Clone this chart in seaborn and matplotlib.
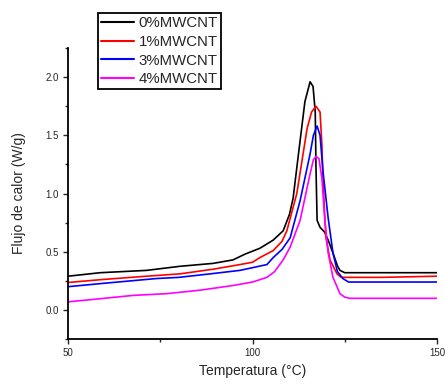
import numpy as np
import pandas as pd
import matplotlib
matplotlib.use("Agg")
import matplotlib.pyplot as plt
import seaborn as sns

# DSC curves
labels = ['0%MWCNT', '1%MWCNT', '3%MWCNT', '4%MWCNT']
colors = ['black', 'red', 'blue', 'magenta']

x_0 = [50, 58.7, 71.3, 80.3, 89.3, 94.7, 98, 102, 105.6, 108.3, 110, 111, 112.3, 114.2,
       115.6, 116.4, 117, 117.2, 117.5, 118.3, 119.5, 120.5, 121.8, 123, 123.7, 125, 150]
y_0 = [0.29, 0.32, 0.34, 0.375, 0.40, 0.43, 0.48, 0.53, 0.60, 0.68, 0.82, 0.96, 1.30, 1.79,
       1.96, 1.92, 1.70, 1.22, 0.77, 0.71, 0.67, 0.60, 0.49, 0.38, 0.34, 0.32, 0.32]

x_1 = [50, 58.7, 71.3, 80.3, 89.3, 96.6, 100, 102, 105.6, 108, 109.3, 112, 113.5, 114.8,
       116, 117.2, 118.3, 118.8, 119.1, 119.5, 119.9, 121, 122.9, 124, 135, 150]
y_1 = [0.236, 0.26, 0.29, 0.31, 0.35, 0.39, 0.41, 0.45, 0.51, 0.59, 0.68, 1.0, 1.30, 1.56,
       1.70, 1.75, 1.70, 1.42, 1.13, 0.85, 0.62, 0.43, 0.31, 0.28, 0.28, 0.29]

x_3 = [50, 60, 74, 80, 88.5, 96.6, 103.9, 105.6, 108, 110.2, 112.9, 115.6, 116.5, 117.5,
       118.3, 119.1, 120.5, 121.8, 123, 124.5, 126, 150]
y_3 = [0.20, 0.23, 0.27, 0.28, 0.31, 0.34, 0.39, 0.45, 0.52, 0.62, 0.94, 1.34, 1.50, 1.58,
       1.50, 1.19, 0.79, 0.49, 0.33, 0.27, 0.24, 0.24]

x_4 = [50, 55, 67.6, 76.8, 85.8, 94.7, 100, 103.9, 106, 108.3, 110.2, 112.9, 115.6, 116.5,
       117.2, 118, 118.8, 119.6, 120.5, 121.8, 123.7, 125, 126.4, 150]
y_4 = [0.07, 0.085, 0.125, 0.14, 0.17, 0.21, 0.24, 0.28, 0.33, 0.43, 0.54, 0.77, 1.17, 1.29,
       1.32, 1.30, 1.13, 0.77, 0.49, 0.28, 0.14, 0.11, 0.10, 0.10]

xs = [x_0, x_1, x_3, x_4]
ys = [y_0, y_1, y_3, y_4]

df = pd.concat([pd.DataFrame({'T': x, 'Q': y, 'muestra': lab}) for x, y, lab in zip(xs, ys, labels)],
               ignore_index=True)

sns.set_style('ticks')
plt.rcParams['font.family'] = ['Liberation Sans', 'DejaVu Sans']

fig = plt.figure(figsize=(4.45, 3.84), dpi=100)
ax = fig.add_axes([0.153, 0.117, 0.829, 0.758])

sns.lineplot(data=df, x='T', y='Q', hue='muestra', palette=colors, sort=False,
             estimator=None, linewidth=1.2, ax=ax)

ax.set_xlim(50, 150)
ax.set_ylim(-0.25, 2.25)
ax.set_xticks([50, 100, 150])
ax.set_xticks([75, 125], minor=True)
ax.set_yticks([0.0, 0.5, 1.0, 1.5, 2.0])
ax.set_yticks([-0.25, 0.25, 0.75, 1.25, 1.75, 2.25], minor=True)
ax.tick_params(which='major', direction='out', length=3.5, width=1, labelsize=7, pad=3)
ax.tick_params(which='minor', direction='out', length=2, width=1)
for s in ['left', 'bottom']:
    ax.spines[s].set_linewidth(1.3)
    ax.spines[s].set_color('black')
sns.despine(ax=ax)

ax.set_xlabel('Temperatura (°C)', fontsize=10, labelpad=4)
ax.set_ylabel('Flujo de calor (W/g)', fontsize=10, labelpad=14)

ax.legend(loc='upper left', bbox_to_anchor=(0.22, 0.966), bbox_transform=fig.transFigure,
          borderaxespad=0, frameon=True, fancybox=False, edgecolor='black', framealpha=1,
          fontsize=10.8, handlelength=2.2, handletextpad=0.3, labelspacing=0.32,
          borderpad=0.2, title=None)
leg = ax.get_legend()
leg.get_frame().set_linewidth(1.3)
for line in leg.get_lines():
    line.set_linewidth(1.5)

fig.savefig('out.png', dpi=100)
